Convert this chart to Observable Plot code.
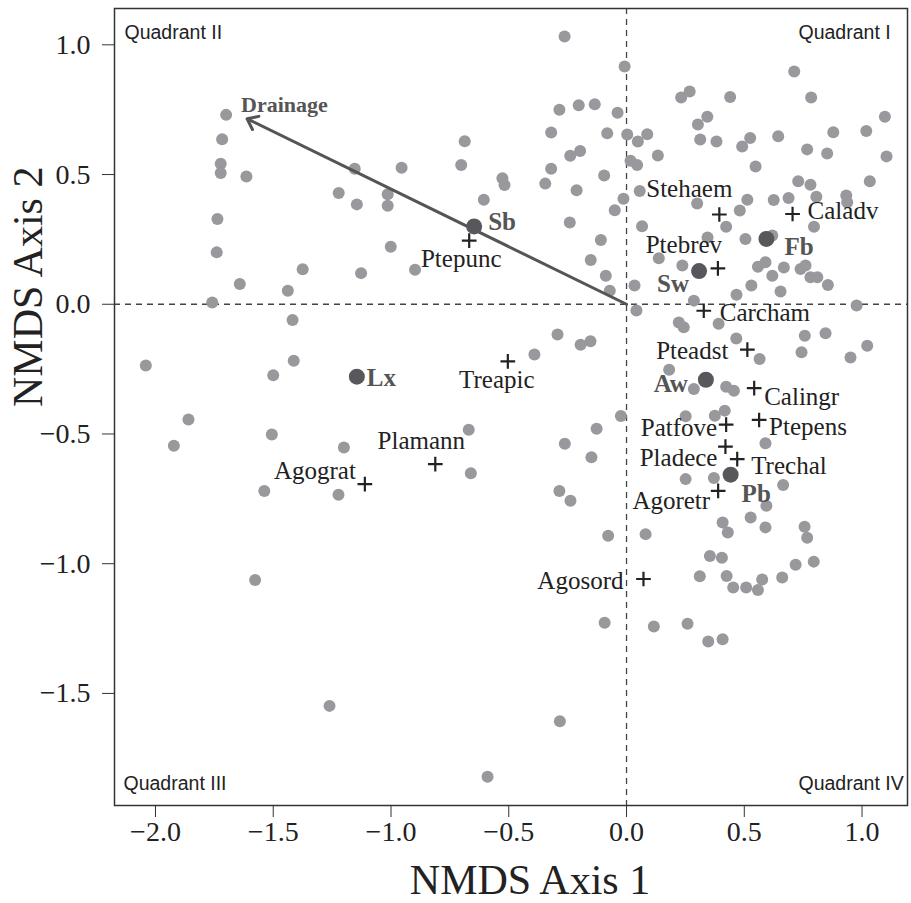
<!DOCTYPE html>
<html><head><meta charset="utf-8">
<script src="https://cdn.jsdelivr.net/npm/d3@7"></script>
<script src="https://cdn.jsdelivr.net/npm/@observablehq/plot@0.6"></script>
<style>html,body{margin:0;padding:0;background:#fff}#chart svg{display:block}</style>
</head><body><div id="chart"></div>
<script>
// Sample plots (light grey points)
const plotX = [-1.700,-1.717,-1.723,-1.723,-1.614,-1.154,-1.222,-1.145,-1.737,-1.740,-1.375,-1.127,
  -0.263,-0.008,-0.285,-0.203,-0.135,-0.038,-0.320,-0.082,0.003,0.048,-0.687,-0.239,-0.197,-0.955,-0.702,-0.320,
  0.017,0.045,-0.095,-0.527,-0.518,-0.345,-0.212,0.056,-1.014,-1.014,-0.606,-0.013,-0.050,-0.241,0.066,-1.001,
  -0.109,-0.152,-0.898,-0.088,0.712,0.232,0.268,0.440,0.784,0.303,0.343,1.097,0.088,0.313,0.382,0.491,0.525,
  0.644,0.878,1.018,0.133,0.767,0.852,1.104,0.548,0.729,0.781,1.033,0.300,0.513,0.625,0.688,0.806,0.933,0.937,
  0.481,0.423,0.796,0.344,0.505,0.619,0.137,0.237,0.558,0.590,0.668,0.619,0.739,0.760,0.781,0.810,0.855,0.034,
  0.530,0.654,0.467,0.286,0.977,0.042,0.222,0.391,0.243,-0.071,0.757,0.845,1.022,0.951,0.743,0.466,0.565,0.181,
  0.286,0.423,0.456,0.251,0.375,0.417,0.590,0.251,0.371,0.665,0.594,0.527,0.408,0.430,0.590,0.756,0.767,0.081,
  0.354,0.405,0.795,0.718,0.311,0.425,0.453,0.508,0.558,0.576,0.661,0.116,0.259,0.347,0.408,-0.078,-0.093,
  -0.283,-0.590,-1.577,-1.261,-1.642,-1.438,-1.759,-1.418,-1.413,-2.041,-1.500,-1.860,-1.922,-1.506,-1.200,
  -1.538,-1.223,-0.293,-0.195,-0.153,-0.391,-0.024,-0.127,-0.262,-0.149,-0.670,-0.661,-0.285,-0.238];
const plotY = [0.730,0.636,0.542,0.506,0.492,0.522,0.429,0.385,0.329,0.200,0.135,0.120,
  1.032,0.916,0.750,0.767,0.771,0.738,0.662,0.659,0.654,0.627,0.628,0.572,0.591,0.526,0.537,0.522,
  0.553,0.537,0.496,0.486,0.460,0.465,0.439,0.437,0.424,0.380,0.403,0.407,0.362,0.315,0.301,0.222,
  0.248,0.171,0.133,0.110,0.897,0.797,0.820,0.799,0.797,0.693,0.723,0.723,0.655,0.635,0.627,0.608,0.641,
  0.648,0.663,0.668,0.573,0.597,0.581,0.570,0.531,0.474,0.461,0.474,0.388,0.403,0.402,0.410,0.414,0.419,0.393,
  0.361,0.299,0.299,0.257,0.252,0.265,0.177,0.149,0.145,0.162,0.142,0.110,0.136,0.149,0.104,0.104,0.074,0.072,
  0.072,0.049,0.037,0.014,-0.005,-0.024,-0.070,-0.075,-0.089,0.052,-0.121,-0.112,-0.160,-0.205,-0.185,-0.132,-0.211,-0.252,
  -0.327,-0.318,-0.333,-0.432,-0.430,-0.410,-0.536,-0.674,-0.670,-0.697,-0.777,-0.822,-0.841,-0.880,-0.860,-0.858,-0.900,-0.886,
  -0.970,-0.977,-0.992,-1.004,-1.048,-1.047,-1.092,-1.092,-1.101,-1.061,-1.053,-1.242,-1.231,-1.300,-1.291,-0.892,-1.228,
  -1.607,-1.821,-1.063,-1.548,0.078,0.052,0.007,-0.061,-0.218,-0.236,-0.274,-0.444,-0.545,-0.502,-0.552,
  -0.720,-0.734,-0.117,-0.156,-0.143,-0.194,-0.431,-0.480,-0.538,-0.590,-0.484,-0.651,-0.720,-0.757];

// Stand-type centroids (dark points)
const groupNames = ["Sb","Fb","Sw","Lx","Aw","Pb"];
const groupX = [-0.647,0.594,0.308,-1.145,0.337,0.442];
const groupY = [0.300,0.252,0.128,-0.279,-0.291,-0.657];

// Species scores (crosses)
const speciesNames = ["Ptepunc","Stehaem","Caladv","Ptebrev","Carcham","Pteadst","Calingr","Patfove","Ptepens",
  "Pladece","Trechal","Agoretr","Treapic","Plamann","Agograt","Agosord"];
const speciesX = [-0.668,0.394,0.705,0.388,0.328,0.513,0.542,0.423,0.563,0.420,0.470,0.389,-0.504,-0.812,-1.111,0.072];
const speciesY = [0.245,0.346,0.348,0.138,-0.025,-0.175,-0.323,-0.464,-0.446,-0.549,-0.597,-0.719,-0.220,-0.616,-0.693,-1.059];

// Environmental vector
const vectorNames = ["Drainage"];
const vectorX = [-1.611];
const vectorY = [0.715];

const xTicks = [-2.0,-1.5,-1.0,-0.5,0.0,0.5,1.0];
const yTicks = [-1.5,-1.0,-0.5,0.0,0.5,1.0];
const quadrantNames = ["Quadrant I","Quadrant II","Quadrant III","Quadrant IV"];
const xLabel = "NMDS Axis 1";
const yLabel = "NMDS Axis 2";

// ---- label placement (styling) ----
const speciesLabelPlace = {
  Ptepunc:[-8,18,"middle"], Stehaem:[-30,-25,"middle"], Caladv:[15,-3,"start"], Ptebrev:[-34,-23,"middle"],
  Carcham:[16,2,"start"], Pteadst:[-19,1,"end"], Calingr:[10,9,"start"], Patfove:[-9,3,"end"],
  Ptepens:[10,7,"start"], Pladece:[-8,11,"end"], Trechal:[14,7,"start"], Agoretr:[-8,10,"end"],
  Treapic:[-11,19,"middle"], Plamann:[-14,-23,"middle"], Agograt:[-9,-13,"end"], Agosord:[-20,2,"end"]
};
const groupLabelPlace = {Sb:[14,-4,"start"], Fb:[18,8,"start"], Sw:[-10,13,"end"], Lx:[10,1,"start"], Aw:[-18,4,"end"], Pb:[11,19,"start"]};

const plots = plotX.map((x,i)=>({x, y: plotY[i]}));
const groups = groupNames.map((n,i)=>({name:n, x:groupX[i], y:groupY[i]}));
const species = speciesNames.map((n,i)=>({name:n, x:speciesX[i], y:speciesY[i]}));
const vectors = vectorNames.map((n,i)=>({name:n, x:vectorX[i], y:vectorY[i]}));

const serif = "Liberation Serif, Times New Roman, serif";
const sans = "Liberation Sans, Arial, sans-serif";

const marks = [
  Plot.ruleX([0], {stroke:"#444", strokeWidth:1.3, strokeDasharray:"6,5"}),
  Plot.ruleY([0], {stroke:"#444", strokeWidth:1.3, strokeDasharray:"6,5"}),
  Plot.dot(plots, {x:"x", y:"y", r:6, fill:"#98989d", stroke:"none"}),
  Plot.arrow(vectors, {x1:0, y1:0, x2:"x", y2:"y", stroke:"#555", strokeWidth:3, headLength:6, headAngle:75}),
  Plot.dot(groups, {x:"x", y:"y", r:8, fill:"#58585c", stroke:"none"}),
  Plot.dot(species, {x:"x", y:"y", symbol:"plus", r:4.8, stroke:"#222", strokeWidth:2.2}),
  Plot.text(vectors, {x:"x", y:"y", text:"name", textAnchor:"start", dx:-6, dy:-14, fontSize:22, fontWeight:"bold", fontFamily:serif, fill:"#555"}),
  Plot.frame({stroke:"#333", strokeWidth:1.5}),
  Plot.axisX({ticks:xTicks, tickFormat:d3.format(".1f"), tickSize:12, tickPadding:4, fontSize:28, fontFamily:serif, label:null, stroke:"#333"}),
  Plot.axisY({ticks:yTicks, tickFormat:d3.format(".1f"), tickSize:12, tickPadding:12, fontSize:28, fontFamily:serif, label:null, stroke:"#333"}),
  Plot.text([xLabel], {frameAnchor:"bottom", dx:19, dy:88, fontSize:42, fontFamily:serif, fill:"#222"}),
  Plot.text([yLabel], {frameAnchor:"left", dx:-86, dy:0, rotate:-90, fontSize:42, fontFamily:serif, fill:"#222"}),
  Plot.text([quadrantNames[1]], {frameAnchor:"top-left", textAnchor:"start", dx:10, dy:17, fontSize:19.5, fontFamily:sans, fill:"#222"}),
  Plot.text([quadrantNames[0]], {frameAnchor:"top-right", textAnchor:"start", dx:-109, dy:17, fontSize:19.5, fontFamily:sans, fill:"#222"}),
  Plot.text([quadrantNames[2]], {frameAnchor:"bottom-left", textAnchor:"start", dx:9, dy:-16, fontSize:19.5, fontFamily:sans, fill:"#222"}),
  Plot.text([quadrantNames[3]], {frameAnchor:"bottom-right", textAnchor:"start", dx:-109, dy:-16, fontSize:19.5, fontFamily:sans, fill:"#222"})
];

for (const d of species) {
  const [dx, dy, anchor] = speciesLabelPlace[d.name];
  marks.push(Plot.text([d], {x:"x", y:"y", text:"name", textAnchor:anchor, dx, dy, fontSize:25, fontFamily:serif, fill:"#222"}));
}
for (const d of groups) {
  const [dx, dy, anchor] = groupLabelPlace[d.name];
  marks.push(Plot.text([d], {x:"x", y:"y", text:"name", textAnchor:anchor, dx, dy, fontSize:25, fontWeight:"bold", fontFamily:serif, fill:"#555"}));
}

const chart = Plot.plot({
  width: 911, height: 903,
  marginLeft: 114, marginRight: 4, marginTop: 8, marginBottom: 98,
  x: {domain:[-2.174, 1.193]},
  y: {domain:[-1.932, 1.140]},
  style: {background:"#fff", color:"#222", fontFamily: serif},
  marks
});
document.getElementById("chart").appendChild(chart);
</script>
</body></html>
